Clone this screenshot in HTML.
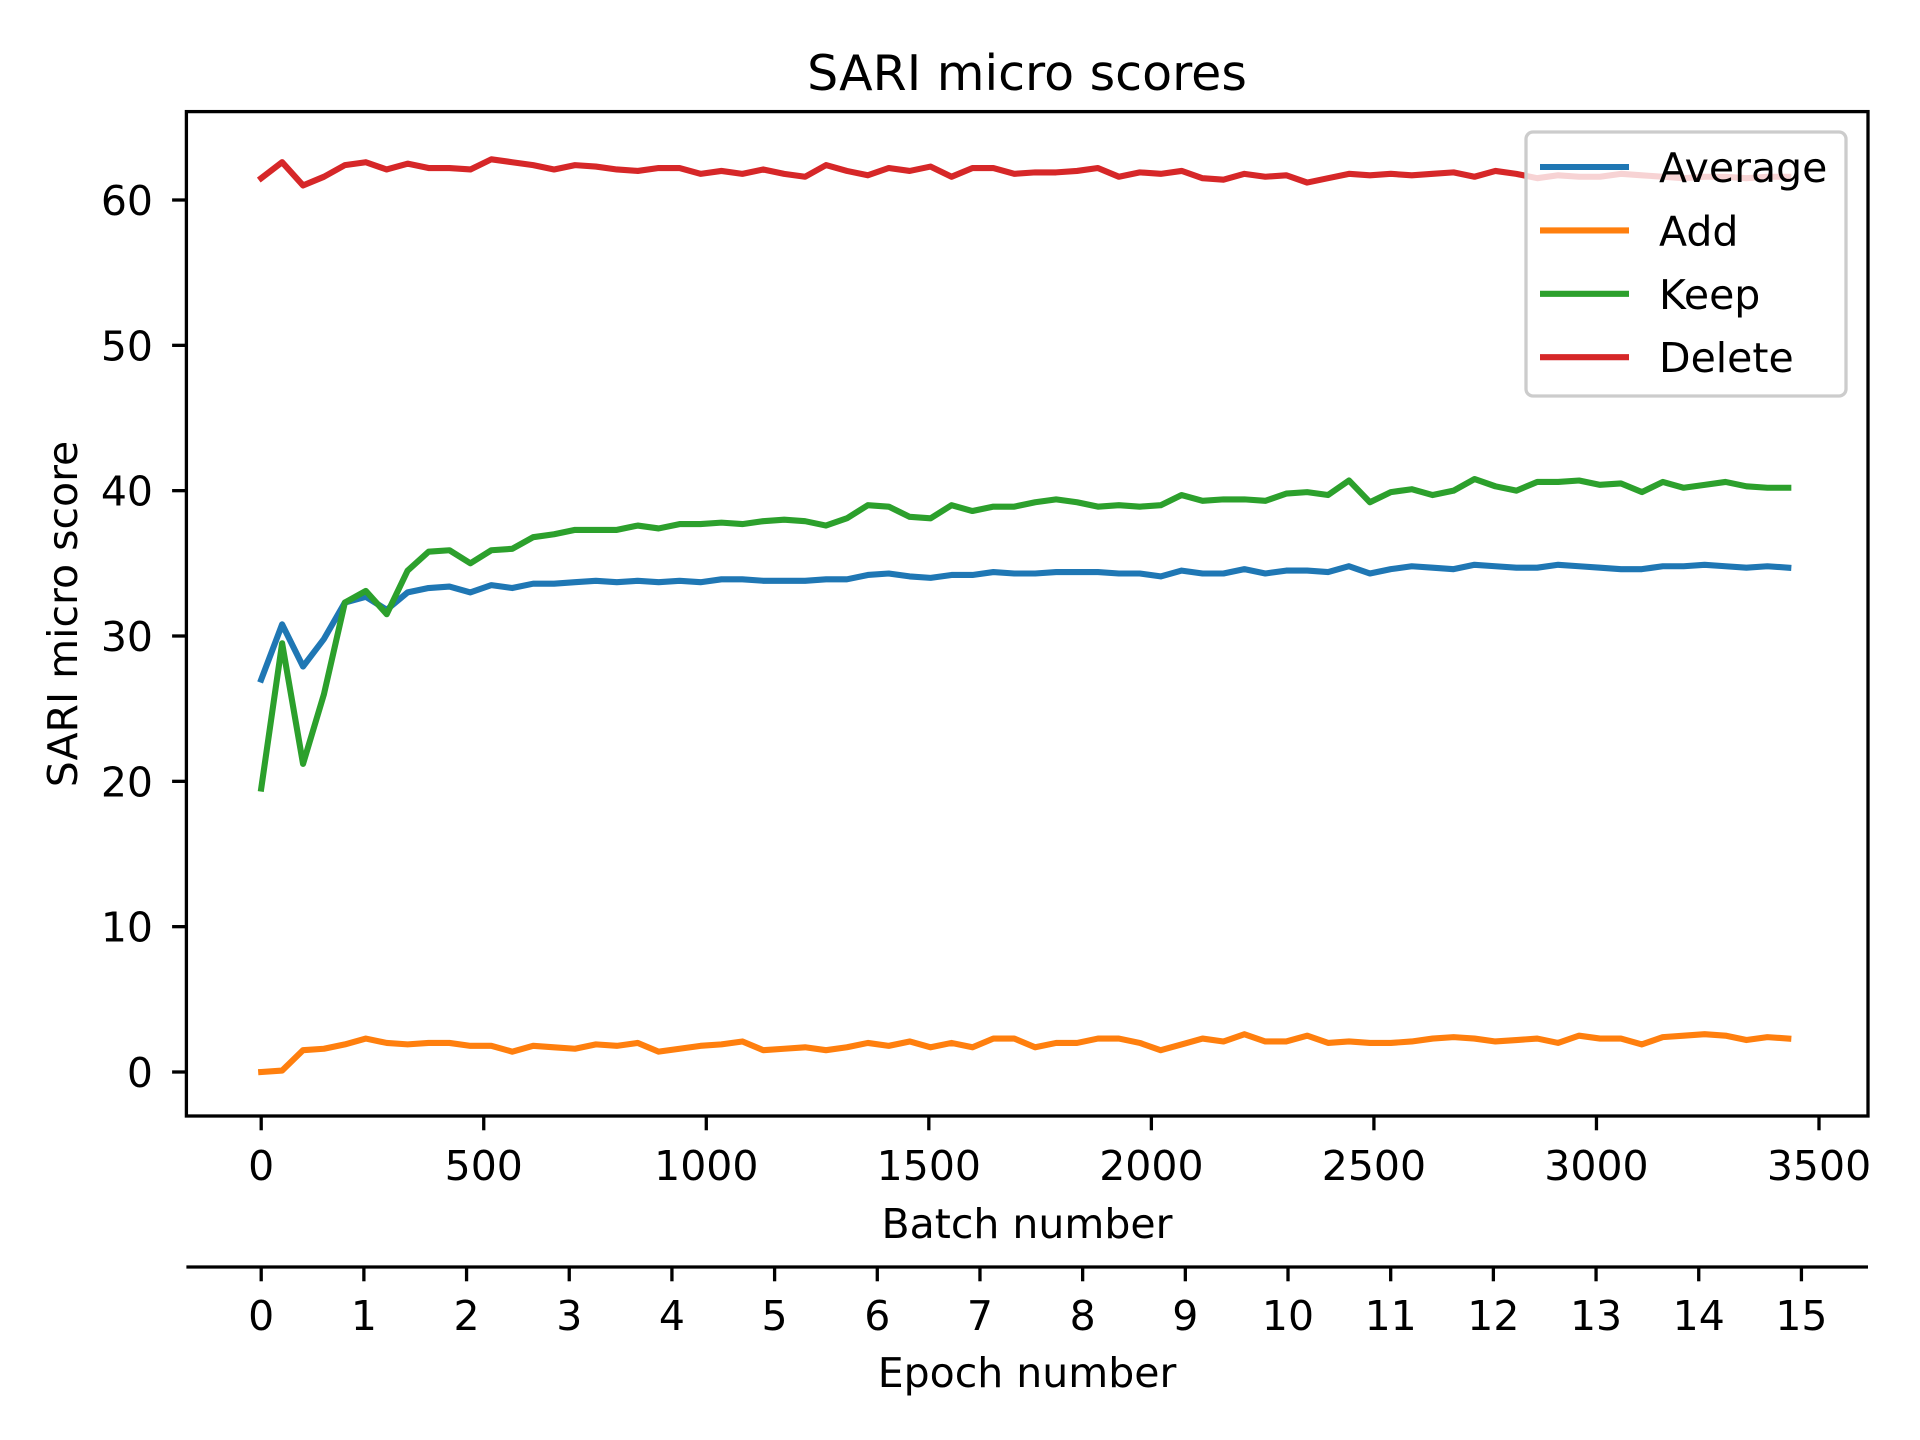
<!DOCTYPE html>
<html><head><meta charset="utf-8"><style>
html,body{margin:0;padding:0;background:#fff}
svg{display:block}
text{font-family:"DejaVu Sans","Liberation Sans",sans-serif;fill:#000}
</style></head><body>
<svg id="chart" width="1920" height="1440" viewBox="0 0 1920 1440" xmlns="http://www.w3.org/2000/svg">
<rect width="1920" height="1440" fill="#fff"/>
<g id="marks"></g>
<g id="axes"></g>
<g id="legend"></g>
</svg>
<script>
const batches = [0,47,94,141,188,235,282,329,376,423,470,517,564,611,658,705,752,799,846,893,940,987,1034,1081,1128,1175,1222,1269,1316,1363,1410,1457,1504,1551,1598,1645,1692,1739,1786,1833,1880,1927,1974,2021,2068,2115,2162,2209,2256,2303,2350,2397,2444,2491,2538,2585,2632,2679,2726,2773,2820,2867,2914,2961,3008,3055,3102,3149,3196,3243,3290,3337,3384,3431];
const averageScores = [27.0,30.8,27.9,29.8,32.3,32.7,31.8,33.0,33.3,33.4,33.0,33.5,33.3,33.6,33.6,33.7,33.8,33.7,33.8,33.7,33.8,33.7,33.9,33.9,33.8,33.8,33.8,33.9,33.9,34.2,34.3,34.1,34.0,34.2,34.2,34.4,34.3,34.3,34.4,34.4,34.4,34.3,34.3,34.1,34.5,34.3,34.3,34.6,34.3,34.5,34.5,34.4,34.8,34.3,34.6,34.8,34.7,34.6,34.9,34.8,34.7,34.7,34.9,34.8,34.7,34.6,34.6,34.8,34.8,34.9,34.8,34.7,34.8,34.7];
const addScores = [0.0,0.1,1.5,1.6,1.9,2.3,2.0,1.9,2.0,2.0,1.8,1.8,1.4,1.8,1.7,1.6,1.9,1.8,2.0,1.4,1.6,1.8,1.9,2.1,1.5,1.6,1.7,1.5,1.7,2.0,1.8,2.1,1.7,2.0,1.7,2.3,2.3,1.7,2.0,2.0,2.3,2.3,2.0,1.5,1.9,2.3,2.1,2.6,2.1,2.1,2.5,2.0,2.1,2.0,2.0,2.1,2.3,2.4,2.3,2.1,2.2,2.3,2.0,2.5,2.3,2.3,1.9,2.4,2.5,2.6,2.5,2.2,2.4,2.3];
const keepScores = [19.5,29.5,21.2,26.0,32.3,33.1,31.5,34.5,35.8,35.9,35.0,35.9,36.0,36.8,37.0,37.3,37.3,37.3,37.6,37.4,37.7,37.7,37.8,37.7,37.9,38.0,37.9,37.6,38.1,39.0,38.9,38.2,38.1,39.0,38.6,38.9,38.9,39.2,39.4,39.2,38.9,39.0,38.9,39.0,39.7,39.3,39.4,39.4,39.3,39.8,39.9,39.7,40.7,39.2,39.9,40.1,39.7,40.0,40.8,40.3,40.0,40.6,40.6,40.7,40.4,40.5,39.9,40.6,40.2,40.4,40.6,40.3,40.2,40.2];
const deleteScores = [61.5,62.6,61.0,61.6,62.4,62.6,62.1,62.5,62.2,62.2,62.1,62.8,62.6,62.4,62.1,62.4,62.3,62.1,62.0,62.2,62.2,61.8,62.0,61.8,62.1,61.8,61.6,62.4,62.0,61.7,62.2,62.0,62.3,61.6,62.2,62.2,61.8,61.9,61.9,62.0,62.2,61.6,61.9,61.8,62.0,61.5,61.4,61.8,61.6,61.7,61.2,61.5,61.8,61.7,61.8,61.7,61.8,61.9,61.6,62.0,61.8,61.5,61.7,61.6,61.6,61.8,61.7,61.6,61.5,61.6,61.6,61.5,61.6,61.6];
const seriesNames = ["Average","Add","Keep","Delete"];
const yTicks = [0,10,20,30,40,50,60];
const xTicks = [0,500,1000,1500,2000,2500,3000,3500];
const epochTicks = [0,1,2,3,4,5,6,7,8,9,10,11,12,13,14,15];
const batchesPerEpoch = 230.7;

const NS = "http://www.w3.org/2000/svg";
const L = 186.4, R = 1868, T = 111.6, B = 1116;
const X0 = 261.2, XPER = (1819 - 261.2) / 3500;
const Y0 = 1072, YPER = (1072 - 200) / 60;
const xS = v => X0 + v * XPER;
const yS = v => Y0 - v * YPER;
const colors = ["#1f77b4","#ff7f0e","#2ca02c","#d62728"];
const allSeries = [averageScores, addScores, keepScores, deleteScores];

function mk(tag, attrs, parent, txt) {
  const e = document.createElementNS(NS, tag);
  for (const k in attrs) e.setAttribute(k, attrs[k]);
  if (txt !== undefined) e.textContent = txt;
  parent.appendChild(e);
  return e;
}
const marks = document.getElementById('marks');
const axes = document.getElementById('axes');
const legend = document.getElementById('legend');

allSeries.forEach((s, si) => {
  const n = Math.min(s.length, batches.length);
  let d = "";
  for (let i = 0; i < n; i++) d += (i ? "L" : "M") + xS(batches[i]).toFixed(2) + "," + yS(s[i]).toFixed(2);
  const p = mk('path', {d: d, fill: "none", stroke: colors[si], "stroke-width": 6.1, "stroke-linejoin": "round", "stroke-linecap": "square"}, marks);
  
  
});

const frame = mk('rect', {x: L, y: T, width: R - L, height: B - T, fill: "none", stroke: "#000", "stroke-width": 3.3}, axes);



yTicks.forEach(v => {
  const y = yS(v);
  mk('line', {x1: L - 14.3, x2: L, y1: y, y2: y, stroke: "#000", "stroke-width": 3.3}, axes);
  const t = mk('text', {x: 153, y: y + 15, "text-anchor": "end", "font-size": 41}, axes, String(v));
  
  
});
xTicks.forEach(v => {
  const x = xS(v);
  mk('line', {x1: x, x2: x, y1: B, y2: B + 14.3, stroke: "#000", "stroke-width": 3.3}, axes);
  const t = mk('text', {x: x, y: 1180, "text-anchor": "middle", "font-size": 41}, axes, String(v));
  
  
});
mk('line', {x1: L, x2: R, y1: 1267, y2: 1267, stroke: "#000", "stroke-width": 3.3}, axes);
epochTicks.forEach(v => {
  const x = xS(v * batchesPerEpoch);
  mk('line', {x1: x, x2: x, y1: 1267, y2: 1281.3, stroke: "#000", "stroke-width": 3.3}, axes);
  const t = mk('text', {x: x, y: 1330, "text-anchor": "middle", "font-size": 41}, axes, String(v));
  
  
});

const title = mk('text', {x: 1027, y: 90, "text-anchor": "middle", "font-size": 49}, axes, "SARI micro scores");


const xl = mk('text', {x: 1027, y: 1238, "text-anchor": "middle", "font-size": 41}, axes, "Batch number");


const el = mk('text', {x: 1027, y: 1387, "text-anchor": "middle", "font-size": 41}, axes, "Epoch number");


const yl = mk('text', {x: 0, y: 0, "text-anchor": "middle", "font-size": 41, transform: "translate(77,614) rotate(-90)"}, axes, "SARI micro score");



const box = mk('rect', {x: 1526, y: 132, width: 320, height: 264, rx: 7, fill: "#fff", "fill-opacity": 0.8, stroke: "#cccccc", "stroke-width": 3.3}, legend);


seriesNames.forEach((nm, i) => {
  const y = 167 + i * 63.4;
  const g = mk('g', {}, legend);
  
  
  mk('line', {x1: 1540, x2: 1629, y1: y, y2: y, stroke: colors[i], "stroke-width": 6.1}, g);
  mk('text', {x: 1659, y: y + 15, "font-size": 41}, g, nm);
});
</script>
</body></html>
